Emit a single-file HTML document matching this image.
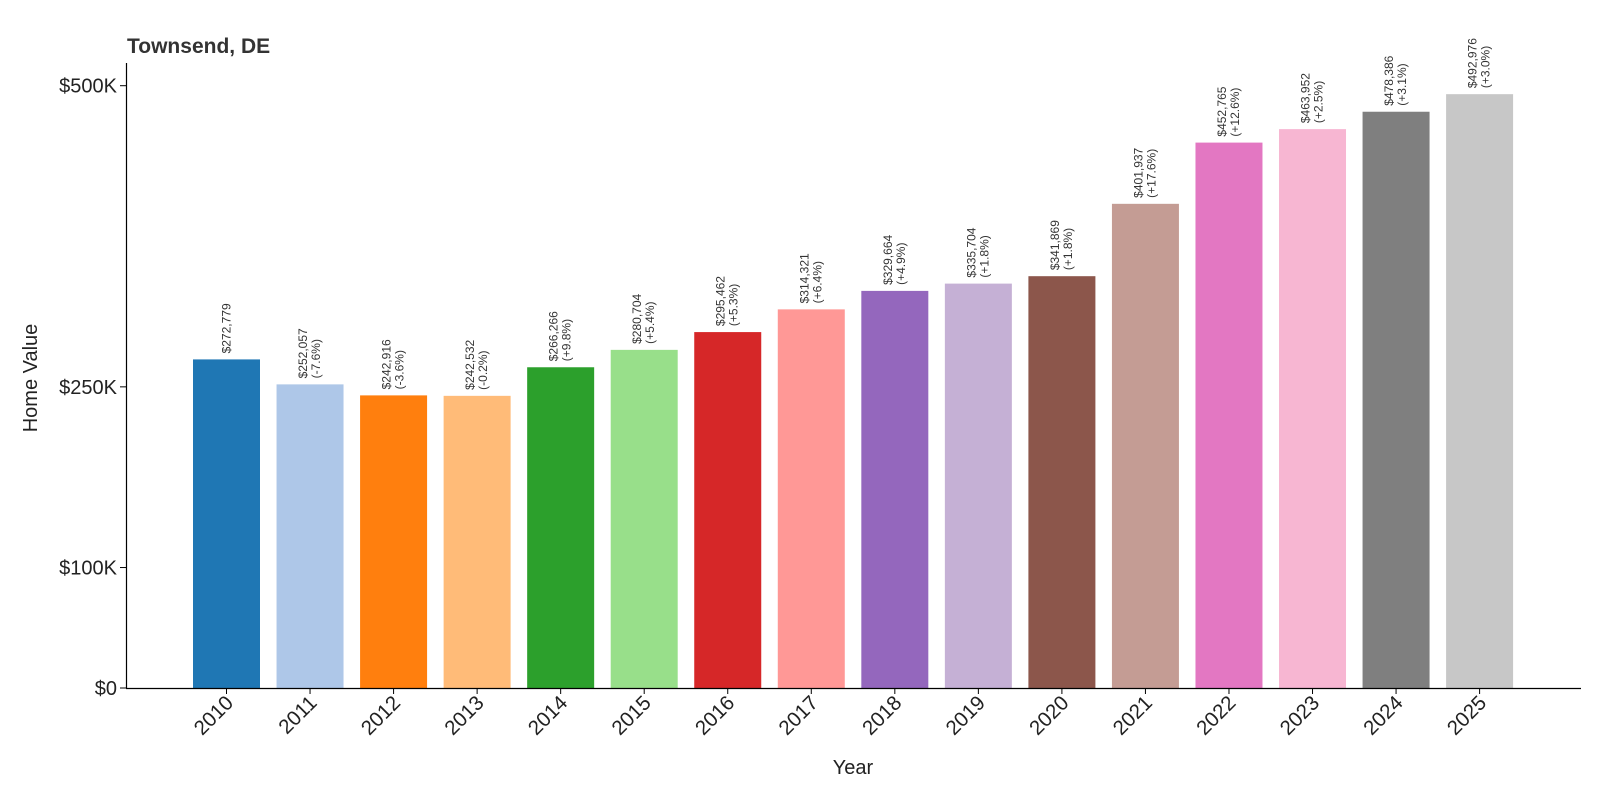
<!DOCTYPE html>
<html><head><meta charset="utf-8"><style>
body{margin:0;background:#fff;font-family:"Liberation Sans","DejaVu Sans",sans-serif}
</style></head><body>
<svg id="chart" width="1600" height="800" xmlns="http://www.w3.org/2000/svg">
<text x="127" y="53" font-size="21" font-weight="bold" fill="#333">Townsend, DE</text>
<text transform="translate(37,378) rotate(-90)" text-anchor="middle" font-size="20" fill="#222">Home Value</text>
<text x="853" y="774" text-anchor="middle" font-size="20" fill="#222">Year</text>
<g id="bars"></g>
<line x1="126.5" y1="63" x2="126.5" y2="688" stroke="#000" stroke-width="1.2"/>
<line x1="126" y1="688.5" x2="1581" y2="688.5" stroke="#000" stroke-width="1.2"/>
</svg>
<script>
const years=["2010","2011","2012","2013","2014","2015","2016","2017","2018","2019","2020","2021","2022","2023","2024","2025"];
const values=[272779,252057,242916,242532,266266,280704,295462,314321,329664,335704,341869,401937,452765,463952,478386,492976];
const changes=["","-7.6%","-3.6%","-0.2%","+9.8%","+5.4%","+5.3%","+6.4%","+4.9%","+1.8%","+1.8%","+17.6%","+12.6%","+2.5%","+3.1%","+3.0%"];
const yTicks=[0,100000,250000,500000];
const yTickLabels=["$0","$100K","$250K","$500K"];
const colors=["#1f77b4","#aec7e8","#ff7f0e","#ffbb78","#2ca02c","#98df8a","#d62728","#ff9896","#9467bd","#c5b0d5","#8c564b","#c49c94","#e377c2","#f7b6d2","#7f7f7f","#c7c7c7"];
const ns="http://www.w3.org/2000/svg";
const svg=document.getElementById('chart');
const g=document.getElementById('bars');
function y(v){return 688-v*0.0012046;}
function x(i){return 226.5+i*83.54;}
const bw=67;
function mk(t,a){const e=document.createElementNS(ns,t);for(const k in a)e.setAttribute(k,a[k]);return e;}
yTicks.forEach((v,i)=>{
  const tk=mk('line',{x1:120,x2:126,y1:y(v),y2:y(v),stroke:'#000'});
  
  
  svg.appendChild(tk);
  const t=mk('text',{x:117,y:y(v)+7,'text-anchor':'end','font-size':20,fill:'#222'});
  
  
  t.textContent=yTickLabels[i];svg.appendChild(t);
});
years.forEach((yr,i)=>{
  const cx=x(i),top=y(values[i]);
  const r=mk('rect',{x:cx-bw/2,y:top,width:bw,height:688-top,fill:colors[i]});
  
  
  g.appendChild(r);
  const tk=mk('line',{x1:cx,x2:cx,y1:688,y2:694,stroke:'#000'});
  
  
  svg.appendChild(tk);
  const t=mk('text',{transform:`translate(${cx+8},${704}) rotate(-45)`,'text-anchor':'end','font-size':20.5,fill:'#222'});
  
  
  t.textContent=yr;svg.appendChild(t);
  const lbl=mk('text',{transform:`translate(${cx},${top-6}) rotate(-90)`,'font-size':12,fill:'#333'});
  
  
  const money='$'+values[i].toLocaleString('en-US');
  if(changes[i]){
    const a=mk('tspan',{x:0,dy:-3});a.textContent=money;lbl.appendChild(a);
    const b=mk('tspan',{x:0,dy:13});b.textContent='('+changes[i]+')';lbl.appendChild(b);
  } else {
    const a=mk('tspan',{x:0,dy:4});a.textContent=money;lbl.appendChild(a);
  }
  svg.appendChild(lbl);
});
</script>
</body></html>
